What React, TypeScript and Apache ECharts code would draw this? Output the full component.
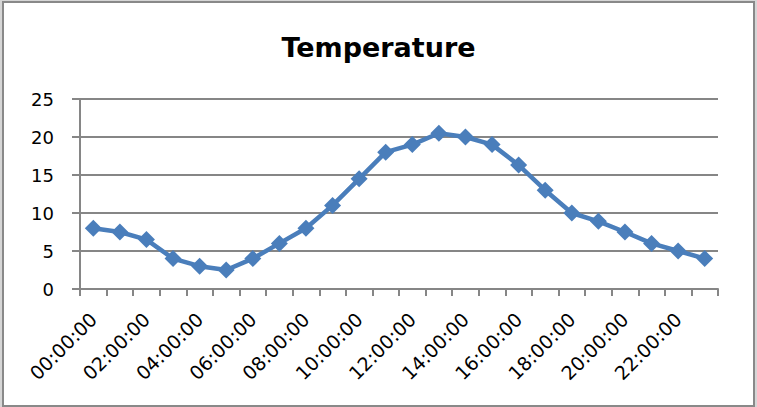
import React, { useEffect, useRef } from "react";
import * as echarts from "echarts";

const categories = [
  "00:00:00", "01:00:00", "02:00:00", "03:00:00", "04:00:00", "05:00:00",
  "06:00:00", "07:00:00", "08:00:00", "09:00:00", "10:00:00", "11:00:00",
  "12:00:00", "13:00:00", "14:00:00", "15:00:00", "16:00:00", "17:00:00",
  "18:00:00", "19:00:00", "20:00:00", "21:00:00", "22:00:00", "23:00:00",
];
const temperature = [
  8, 7.5, 6.5, 4, 3, 2.5, 4, 6, 8, 11, 14.5, 18,
  19, 20.5, 20, 19, 16.3, 13, 10, 8.9, 7.5, 6, 5, 4,
];
const yTicks = { min: 0, max: 25, interval: 5 };
const titleText = "Temperature";

export default function App() {
  const ref = useRef<HTMLDivElement>(null);
  useEffect(() => {
    if (!ref.current) return;
    const chart = echarts.init(ref.current, undefined, { renderer: "svg" });
    const gridColor = "#868686";
    chart.setOption({
      animation: false,
      title: {
        text: titleText,
        left: "center",
        top: 29,
        textStyle: {
          fontFamily: "DejaVu Sans",
          fontWeight: "bold",
          fontSize: 27,
          color: "#000",
        },
      },
      grid: { left: 80, right: 39, top: 99, bottom: 118, containLabel: false },
      xAxis: {
        type: "category",
        data: categories,
        boundaryGap: true,
        axisLine: { show: true, lineStyle: { color: gridColor, width: 2 } },
        axisTick: {
          show: true,
          interval: 0,
          length: 7,
          lineStyle: { color: gridColor, width: 2 },
        },
        axisLabel: {
          interval: 1,
          rotate: 45,
          margin: 27,
          fontFamily: "DejaVu Sans",
          fontSize: 19,
          color: "#000",
        },
        splitLine: { show: false },
      },
      yAxis: {
        type: "value",
        min: yTicks.min,
        max: yTicks.max,
        interval: yTicks.interval,
        axisLine: { show: true, lineStyle: { color: gridColor, width: 2 } },
        axisTick: {
          show: true,
          length: 8,
          lineStyle: { color: gridColor, width: 2 },
        },
        axisLabel: {
          margin: 26,
          fontFamily: "DejaVu Sans",
          fontSize: 18,
          color: "#000",
        },
        splitLine: { show: true, lineStyle: { color: gridColor, width: 2 } },
      },
      series: [
        {
          type: "line",
          data: temperature,
          symbol: "diamond",
          symbolSize: 17,
          color: "#4A7EBB",
          lineStyle: { color: "#4A7EBB", width: 4.5 },
          itemStyle: { color: "#4A7EBB" },
        },
      ],
    });
    return () => chart.dispose();
  }, []);

  return (
    <div
      style={{
        position: "fixed",
        left: 0,
        top: 0,
        width: 757,
        height: 407,
        background: "#d6d6d6",
      }}
    >
      <div
        style={{
          position: "absolute",
          left: 2,
          top: 1,
          width: 753,
          height: 406,
          boxSizing: "border-box",
          border: "2px solid #898989",
          background: "#fff",
        }}
      />
      <div
        ref={ref}
        style={{ position: "absolute", left: 0, top: 0, width: 757, height: 407 }}
      />
    </div>
  );
}
